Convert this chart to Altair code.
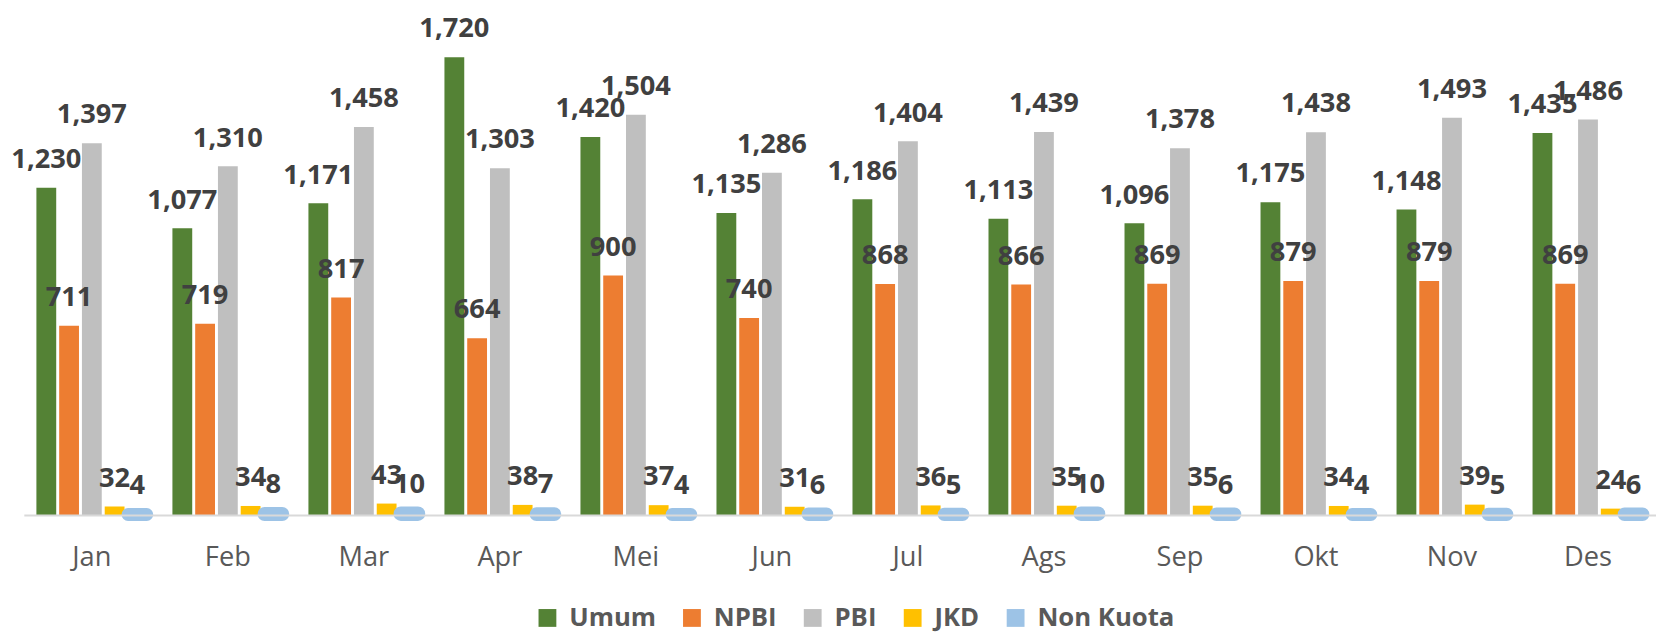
import altair as alt
import pandas as pd

months = ["Jan", "Feb", "Mar", "Apr", "Mei", "Jun", "Jul", "Ags", "Sep", "Okt", "Nov", "Des"]
series = ["Umum", "NPBI", "PBI", "JKD", "Non Kuota"]
umum = [1230, 1077, 1171, 1720, 1420, 1135, 1186, 1113, 1096, 1175, 1148, 1435]
npbi = [711, 719, 817, 664, 900, 740, 868, 866, 869, 879, 879, 869]
pbi = [1397, 1310, 1458, 1303, 1504, 1286, 1404, 1439, 1378, 1438, 1493, 1486]
jkd = [32, 34, 43, 38, 37, 31, 36, 35, 35, 34, 39, 24]
non_kuota = [4, 8, 10, 7, 4, 6, 5, 10, 6, 4, 5, 6]
colors = ["#548235", "#ED7D31", "#BFBFBF", "#FFC000", "#9DC3E6"]

rows = []
for name, vals in zip(series, [umum, npbi, pbi, jkd, non_kuota]):
    for m, v in zip(months, vals):
        rows.append({"bulan": m, "seri": name, "nilai": v})
df = pd.DataFrame(rows)

FONT = "Open Sans"

x_enc = alt.X(
    "bulan:N",
    sort=months,
    scale=alt.Scale(domain=months, paddingInner=0, paddingOuter=0),
    axis=alt.Axis(
        title=None, ticks=False, labelPadding=29, labelFont=FONT, labelFontSize=27.5,
        labelColor="#595959", domainColor="#D9D9D9", domainWidth=2, labelAngle=0,
        grid=False, zindex=1,
    ),
)
xoff = alt.XOffset(
    "seri:N", sort=series,
    scale=alt.Scale(domain=series, paddingInner=0.13, paddingOuter=0.552),
)
y_enc = alt.Y("nilai:Q", scale=alt.Scale(domain=[0, 1878], nice=False, zero=True), axis=None)

legend = alt.Legend(
    title=None, orient="none", legendX=516, legendY=596, direction="horizontal",
    symbolType="square", symbolSize=324, symbolOpacity=1, symbolStrokeWidth=0,
    labelFont=FONT, labelFontSize=26, labelFontWeight="bold", labelColor="#595959",
    labelOffset=9, columnPadding=23, padding=0,
)
fill_enc = alt.Fill("seri:N", sort=series, scale=alt.Scale(domain=series, range=colors), legend=legend)

base = alt.Chart(df)

bars = base.transform_filter(alt.datum.seri != "Non Kuota").mark_bar().encode(
    x=x_enc, xOffset=xoff, y=y_enc, fill=fill_enc
)
nk_bars = base.transform_filter(alt.datum.seri == "Non Kuota").mark_bar(
    stroke="#9DC3E6", strokeWidth=12, strokeJoin="round", cornerRadius=2
).encode(x=x_enc, xOffset=xoff, y=y_enc, fill=fill_enc)

labels = base.mark_text(
    dy=-28, baseline="middle", align="center", font=FONT, fontSize=27.5,
    fontWeight="bold", color="#404040",
).encode(
    x=x_enc, xOffset=xoff, y=y_enc,
    text=alt.Text("nilai:Q", format=","),
)

chart = alt.layer(bars, nk_bars, labels).properties(
    width=1649, height=505, background="white",
    autosize=alt.AutoSizeParams(type="none"),
    padding={"left": 16, "top": 4, "right": 0, "bottom": 120},
).configure_view(stroke=None)

chart.save("out.html", embed_options={"renderer": "svg", "actions": False})
